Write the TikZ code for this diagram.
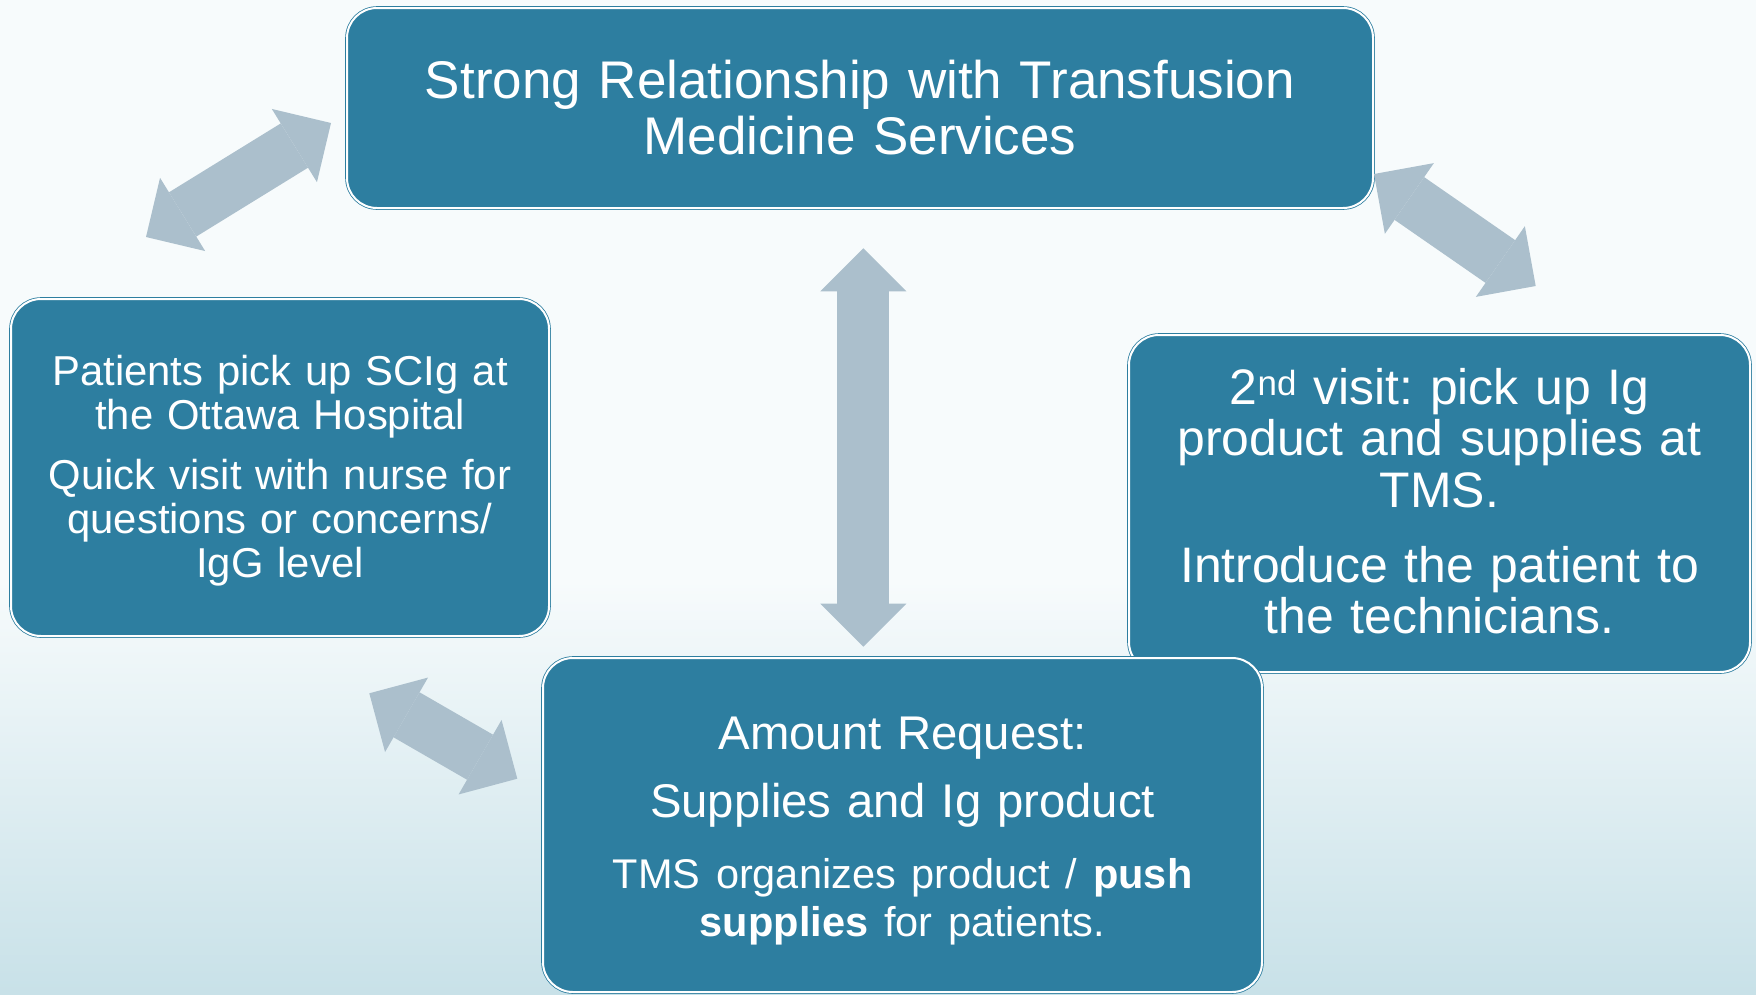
\documentclass[tikz,border=0pt]{standalone}
\usepackage{fontspec}
\setmainfont{Liberation Sans}
\usetikzlibrary{arrows.meta}
\usetikzlibrary{positioning}
\definecolor{tmsblue}{HTML}{2D7EA0}
\definecolor{arrgray}{HTML}{ABBFCC}
\definecolor{bgtop}{HTML}{F7FBFC}
\definecolor{bgbot}{HTML}{C8E1E8}
\frenchspacing
\tikzstyle{tmsbox} = [rectangle, rounded corners=30pt, fill=tmsblue, draw=tmsblue, double=white, double distance=2pt, line width=0.8pt, text=white, align=center, inner xsep=10pt, inner ysep=0pt]
\tikzstyle{blockarr} = [draw=arrgray, line width=52pt, {Triangle[length=43pt, width=86pt, line width=0pt]}-{Triangle[length=43pt, width=86pt, line width=0pt]}]

\begin{document}
\begin{tikzpicture}[x=1pt, y=-1pt]
\useasboundingbox (0,0) rectangle (1756,994);
% Background
\fill[bgtop] (0,0) rectangle (1756,994);
\shade[top color=bgtop, bottom color=bgbot] (0,580) rectangle (1756,994);

% Define nodes
\node[tmsbox, minimum width=1026pt, minimum height=200pt, text width=986pt, font=\fontsize{53}{56}\selectfont] (tms) at (860,108) {Strong Relationship with Transfusion\\Medicine Services};
\node[tmsbox, minimum width=538pt, minimum height=337pt, text width=500pt, text depth=193.6pt, font=\fontsize{41.8}{44}\selectfont] (pickup) at (280,467.5) {Patients pick up SCIg at\\the Ottawa Hospital\\[16pt]Quick visit with nurse for\\questions or concerns/\\IgG level};
\node[tmsbox, minimum width=621pt, minimum height=337pt, text width=580pt, text depth=234.9pt, font=\fontsize{49.9}{51.5}\selectfont] (visit) at (1439.5,503.5) {2\textsuperscript{nd} visit: pick up Ig\\product and supplies at\\TMS.\\[23.5pt]Introduce the patient to\\the technicians.};
\node[tmsbox, minimum width=719pt, minimum height=334pt, text width=680pt, text depth=184.5pt, font=\fontsize{47.3}{48}\selectfont] (request) at (902.5,825) {Amount Request:\\[20pt]Supplies and Ig product\\[23.6pt]\fontsize{41.5}{48}\selectfont TMS organizes product / \textbf{push}\\\textbf{supplies} for patients.};

% Arrow ends
\coordinate (tl1) at (146,237);
\coordinate (tl2) at (331,123);
\coordinate (tr1) at (1374,174);
\coordinate (tr2) at (1535.7,286);
\coordinate (bl1) at (369.3,693.3);
\coordinate (bl2) at (517.3,778.7);
\coordinate (mid1) at (863.3,248.3);
\coordinate (mid2) at (863.3,646.7);

% Arrows
\draw[blockarr] (tl1) -- (tl2);
\draw[blockarr] (tr1) -- (tr2);
\draw[blockarr] (bl1) -- (bl2);
\draw[blockarr] (mid1) -- (mid2);
\end{tikzpicture}
\end{document}
